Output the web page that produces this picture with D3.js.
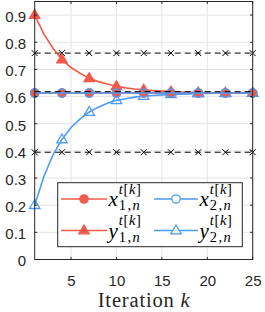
<!DOCTYPE html>
<html><head><meta charset="utf-8">
<script src="https://cdn.jsdelivr.net/npm/d3@7"></script>
<style>body{margin:0;background:#fff}svg{display:block}</style>
</head><body>
<script>
const iterations = d3.range(1, 26);
const x1 = [0.613,0.613,0.613,0.613,0.613,0.613,0.613,0.613,0.613,0.613,0.613,0.613,0.613,0.613,0.613,0.613,0.613,0.613,0.613,0.613,0.613,0.613,0.613,0.613,0.613];
const x2 = [0.613,0.613,0.613,0.613,0.613,0.613,0.613,0.613,0.613,0.613,0.613,0.613,0.613,0.613,0.613,0.613,0.613,0.613,0.613,0.613,0.613,0.613,0.613,0.613,0.613];
const y1 = [0.900,0.831,0.779,0.736,0.707,0.686,0.667,0.655,0.646,0.638,0.632,0.628,0.625,0.622,0.620,0.618,0.617,0.616,0.615,0.615,0.614,0.614,0.614,0.614,0.613];
const y2 = [0.200,0.305,0.384,0.442,0.486,0.518,0.543,0.561,0.575,0.586,0.592,0.598,0.602,0.604,0.606,0.608,0.609,0.610,0.611,0.611,0.612,0.612,0.612,0.613,0.613];
const upperBound = 0.76, midLevel = 0.618, lowerBound = 0.395;
const xTicks = [5,10,15,20,25];
const yTicks = [0,0.1,0.2,0.3,0.4,0.5,0.6,0.7,0.8,0.9];
const RED = "#f05a4b", BLUE = "#4d9bf6", AX = "#262626";

const W=265,H=312, L=34.7, R=252.7, T=1.5, B=259.5;
const svg = d3.select("body").append("svg").attr("width",W).attr("height",H);
const x = d3.scaleLinear().domain([1,25]).range([L,R]);
const y = d3.scaleLinear().domain([0,0.95]).range([B,T]);

// grid
const g = svg.append("g");
g.selectAll(".gx").data(xTicks).join("line").attr("x1",d=>x(d)).attr("x2",d=>x(d)).attr("y1",T).attr("y2",B).attr("stroke","#e4e4e4").attr("stroke-width",1);
g.selectAll(".gy").data(yTicks).join("line").attr("y1",d=>y(d)).attr("y2",d=>y(d)).attr("x1",L).attr("x2",R).attr("stroke","#e4e4e4").attr("stroke-width",1);

const markIdx = iterations.filter(k => (k-1)%3===0);
const line = arr => d3.line().x((d,i)=>x(iterations[i])).y(d=>y(d))(arr);

// black dashed bounds
[upperBound, lowerBound].forEach(v=>{
  svg.append("line").attr("x1",x(1)).attr("x2",x(25)).attr("y1",y(v)).attr("y2",y(v)).attr("stroke","#000").attr("stroke-width",1).attr("stroke-dasharray","6,4");
  svg.append("g").selectAll("path").data(markIdx).join("path")
    .attr("d",k=>`M${x(k)-3},${y(v)-3}L${x(k)+3},${y(v)+3}M${x(k)-3},${y(v)+3}L${x(k)+3},${y(v)-3}`)
    .attr("stroke","#000").attr("stroke-width",1);
});

function triPath(cx,cy,s){return `M${cx},${cy-s}L${cx+s*0.95},${cy+s*0.6}L${cx-s*0.95},${cy+s*0.6}Z`;}

function series(arr,color,type,filled){
  svg.append("path").attr("d",line(arr)).attr("fill","none").attr("stroke",color).attr("stroke-width",1.6);
  const gm = svg.append("g");
  markIdx.forEach(k=>{
    const cx=x(k), cy=y(arr[k-1]);
    if(type==="circle") gm.append("circle").attr("cx",cx).attr("cy",cy).attr("r",4.2)
      .attr("fill",filled?color:"none").attr("stroke",color).attr("stroke-width",1.3);
    else gm.append("path").attr("d",triPath(cx,cy,5.5))
      .attr("fill",filled?color:"none").attr("stroke",color).attr("stroke-width",1.3);
  });
}
series(y1,RED,"tri",true);
series(y2,BLUE,"tri",false);
series(x1,RED,"circle",true);
series(x2,BLUE,"circle",false);

// middle dashed line
svg.append("line").attr("x1",x(1)).attr("x2",x(25)).attr("y1",y(midLevel)).attr("y2",y(midLevel)).attr("stroke","#000").attr("stroke-width",1).attr("stroke-dasharray","6,4");

// axes box
svg.append("rect").attr("x",L).attr("y",T).attr("width",R-L).attr("height",B-T).attr("fill","none").attr("stroke",AX).attr("stroke-width",1);
const tl=2.6;
xTicks.forEach(t=>{
  svg.append("line").attr("x1",x(t)).attr("x2",x(t)).attr("y1",B).attr("y2",B-tl).attr("stroke",AX);
  svg.append("line").attr("x1",x(t)).attr("x2",x(t)).attr("y1",T).attr("y2",T+tl).attr("stroke",AX);
});
yTicks.forEach(t=>{
  svg.append("line").attr("x1",L).attr("x2",L+tl).attr("y1",y(t)).attr("y2",y(t)).attr("stroke",AX);
  svg.append("line").attr("x1",R).attr("x2",R-tl).attr("y1",y(t)).attr("y2",y(t)).attr("stroke",AX);
});
const axisX = d3.axisBottom(x).tickValues(xTicks).tickSize(0).tickPadding(0);
const ax = svg.append("g").attr("transform",`translate(0,${B+15.5})`).call(axisX);
ax.select(".domain").remove();
ax.selectAll("text").attr("font-family","Liberation Sans, Arial, sans-serif").attr("font-size",15).attr("fill",AX).attr("dy","0.71em").attr("y",0);
const axisY = d3.axisLeft(y).tickValues(yTicks).tickSize(0).tickPadding(0).tickFormat(d3.format("~g"));
const ay = svg.append("g").attr("transform",`translate(${L-8.5},1.5)`).call(axisY);
ay.select(".domain").remove();
ay.selectAll("text").attr("font-family","Liberation Sans, Arial, sans-serif").attr("font-size",15).attr("fill",AX);

// x label
const xl = svg.append("text").attr("x",(L+R)/2).attr("y",307.3).attr("text-anchor","middle")
  .attr("font-family","Liberation Serif, DejaVu Serif, serif").attr("font-size",20.5).attr("fill",AX)
  .attr("textLength",92).attr("lengthAdjust","spacing");
xl.append("tspan").text("Iteration ");
xl.append("tspan").attr("font-style","italic").text("k");

// legend
const lg = svg.append("g");
lg.append("rect").attr("x",57.7).attr("y",182.7).attr("width",184.6).attr("height",64).attr("fill","#fff").attr("stroke",AX).attr("stroke-width",1);
const legendItems = [
  {c:RED,type:"circle",filled:true,main:"x",sub:"1,n",col:0,row:0},
  {c:RED,type:"tri",filled:true,main:"y",sub:"1,n",col:0,row:1},
  {c:BLUE,type:"circle",filled:false,main:"x",sub:"2,n",col:1,row:0},
  {c:BLUE,type:"tri",filled:false,main:"y",sub:"2,n",col:1,row:1}
];
const colX = [[61,107,84,108.5],[154,198,176,199.5]];
legendItems.forEach(it=>{
  const [x0,x1p,xm,xt] = colX[it.col];
  const ly = 199 + it.row*31.5;
  lg.append("line").attr("x1",x0).attr("x2",x1p).attr("y1",ly).attr("y2",ly).attr("stroke",it.c).attr("stroke-width",1.6);
  if(it.type==="circle") lg.append("circle").attr("cx",xm).attr("cy",ly).attr("r",4.2).attr("fill",it.filled?it.c:"#fff").attr("stroke",it.c).attr("stroke-width",1.3);
  else lg.append("path").attr("d",triPath(xm,ly,5.5)).attr("fill",it.filled?it.c:"#fff").attr("stroke",it.c).attr("stroke-width",1.3);
  const fam = "Liberation Serif, DejaVu Serif, serif";
  const base = 206 + it.row*31.5;
  const mt = lg.append("text").attr("x",xt).attr("y",base).attr("font-family",fam).attr("font-style","italic").attr("font-size",21).attr("fill","#000").text(it.main);
  const mw = mt.node().getComputedTextLength();
  const sx = xt + mw + 1;
  const sup = lg.append("text").attr("x",sx).attr("y",base-12.5).attr("font-family",fam).attr("font-size",14.5).attr("fill","#000")
    .attr("textLength",22).attr("lengthAdjust","spacing");
  sup.append("tspan").attr("font-style","italic").text("t");
  sup.append("tspan").text("[");
  sup.append("tspan").attr("font-style","italic").text("k");
  sup.append("tspan").text("]");
  const sub = lg.append("text").attr("x",sx).attr("y",base+4).attr("font-family",fam).attr("font-size",14.5).attr("fill","#000")
    .attr("textLength",21).attr("lengthAdjust","spacing");
  const parts = it.sub.split(",");
  sub.append("tspan").text(parts[0]+",");
  sub.append("tspan").attr("font-style","italic").text(parts[1]);
});
</script>
</body></html>
